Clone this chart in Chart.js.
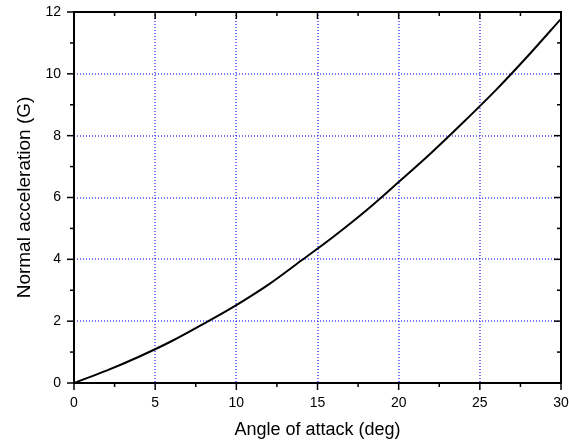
<!DOCTYPE html>
<html>
<head>
<meta charset="utf-8">
<script src="https://cdn.jsdelivr.net/npm/chart.js@4/dist/chart.umd.min.js"></script>
<style>
  html, body { margin: 0; padding: 0; background: #fff; }
  #wrap { width: 569px; height: 443px; }
</style>
</head>
<body>
<div id="wrap"><canvas id="myChart" width="569" height="443"></canvas></div>
<script>
// values
const angles = [0, 2, 4, 6, 8, 10, 12, 14, 16, 18, 20, 22, 24, 26, 28, 30];
const accel = [0, 0.40, 0.85, 1.35, 1.92, 2.52, 3.19, 3.96, 4.74, 5.58, 6.50, 7.44, 8.44, 9.48, 10.60, 11.78];

const xMin = 0, xMax = 30, xStep = 5;
const yMin = 0, yMax = 12, yStep = 2;

const gridBlue = 'rgba(30, 30, 255, 0.6)';

// frame + tick marks (bottom/left outward, top/right inward, with minors)
const frame = {
    id: 'frame',
    afterDraw(chart) {
        const { ctx, chartArea: a, scales: { x, y } } = chart;
        const line = (x1, y1, x2, y2) => {
            ctx.beginPath();
            ctx.moveTo(x1, y1);
            ctx.lineTo(x2, y2);
            ctx.stroke();
        };
        ctx.save();
        ctx.strokeStyle = '#000';
        ctx.lineWidth = 1.5;

        x.ticks.forEach((t, i) => {
            const px = x.getPixelForValue(t.value);
            line(px, a.bottom, px, a.bottom + 7);
            line(px, a.top, px, a.top + 7);
            if (i < x.ticks.length - 1) {
                const mx = x.getPixelForValue(t.value + xStep / 2);
                line(mx, a.bottom, mx, a.bottom + 4);
                line(mx, a.top, mx, a.top + 4);
            }
        });
        y.ticks.forEach((t, i) => {
            const py = y.getPixelForValue(t.value);
            line(a.left, py, a.left - 7, py);
            line(a.right, py, a.right - 7, py);
            if (i < y.ticks.length - 1) {
                const my = y.getPixelForValue(t.value + yStep / 2);
                line(a.left, my, a.left - 4, my);
                line(a.right, my, a.right - 4, my);
            }
        });

        ctx.lineWidth = 2;
        ctx.strokeRect(a.left, a.top, a.right - a.left, a.bottom - a.top);
        ctx.restore();
    }
};

const edgeless = (min, max) => (c) =>
    (c.tick && (c.tick.value === min || c.tick.value === max)) ? 'rgba(0,0,0,0)' : gridBlue;

const ctx = document.getElementById('myChart');
const myChart = new Chart(ctx, {
    type: 'line',
    data: {
        datasets: [{
            data: angles.map((a, i) => ({ x: a, y: accel[i] })),
            borderColor: '#000',
            borderWidth: 2,
            pointRadius: 0,
            cubicInterpolationMode: 'monotone',
            fill: false
        }]
    },
    options: {
        responsive: false,
        animation: false,
        layout: { padding: { left: 0, top: 12, right: 8, bottom: 0 } },
        plugins: {
            legend: { display: false },
            tooltip: { enabled: false }
        },
        scales: {
            x: {
                type: 'linear',
                min: xMin,
                max: xMax,
                ticks: {
                    stepSize: xStep,
                    padding: 12,
                    color: '#000',
                    maxRotation: 0,
                    font: { family: 'Liberation Sans', size: 14 }
                },
                grid: { color: edgeless(xMin, xMax), lineWidth: 2, drawTicks: false },
                border: { display: false, dash: [1, 2] },
                title: {
                    display: true,
                    text: 'Angle of attack (deg)',
                    color: '#000',
                    font: { family: 'Liberation Sans', size: 18 },
                    padding: { top: 0, bottom: 2 }
                },
                afterFit(scale) {
                    scale.height = 60;
                    scale.paddingLeft = 0;
                    scale.paddingRight = 0;
                }
            },
            y: {
                type: 'linear',
                min: yMin,
                max: yMax,
                ticks: {
                    stepSize: yStep,
                    padding: 13,
                    color: '#000',
                    font: { family: 'Liberation Sans', size: 14 }
                },
                grid: { color: edgeless(yMin, yMax), lineWidth: 2, drawTicks: false },
                border: { display: false, dash: [1, 2] },
                title: {
                    display: true,
                    text: 'Normal acceleration (G)',
                    color: '#000',
                    font: { family: 'Liberation Sans', size: 19 },
                    padding: { top: 13, bottom: 0 }
                },
                afterFit(scale) {
                    scale.width = 74;
                    scale.paddingTop = 0;
                    scale.paddingBottom = 0;
                }
            }
        }
    },
    plugins: [frame]
});
</script>
</body>
</html>
